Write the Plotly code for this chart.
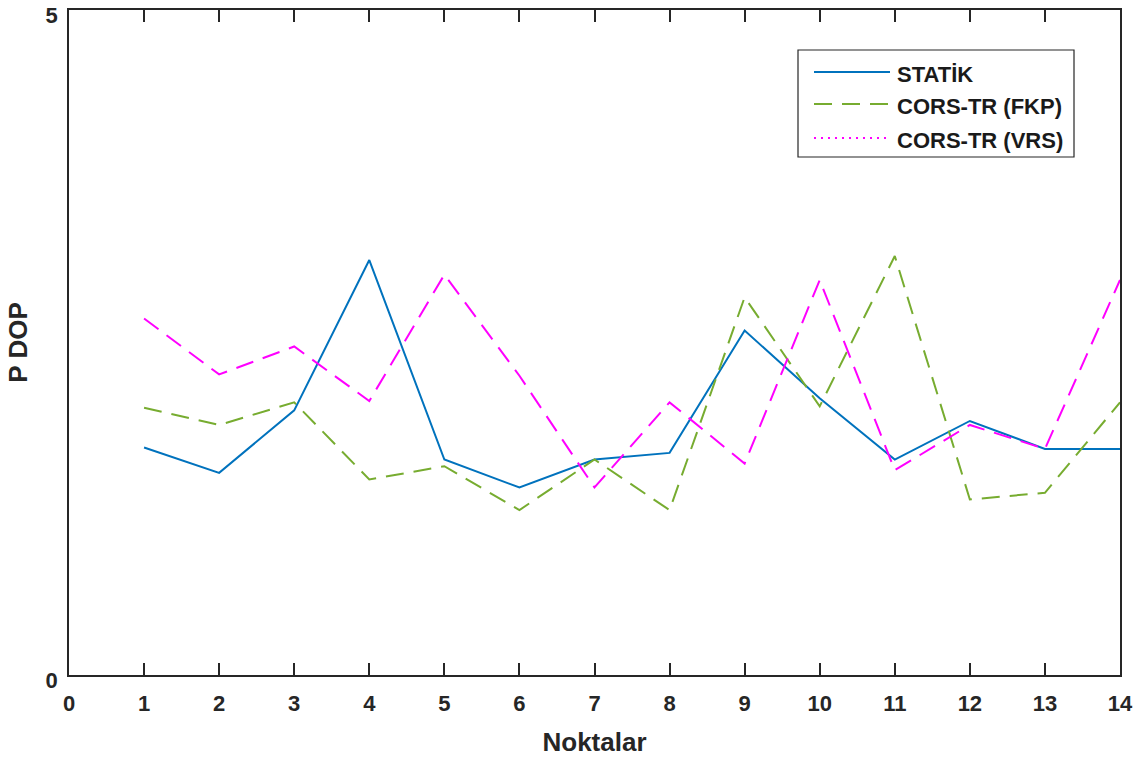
import plotly.graph_objects as go

# Measurement points and PDOP values per method
noktalar = list(range(1, 15))
statik = [1.71, 1.52, 1.99, 3.12, 1.62, 1.41, 1.62, 1.67, 2.59, 2.08, 1.62, 1.91, 1.70, 1.70]
fkp = [2.01, 1.88, 2.05, 1.47, 1.57, 1.24, 1.62, 1.24, 2.84, 2.02, 3.15, 1.32, 1.37, 2.05]
vrs = [2.68, 2.26, 2.47, 2.06, 3.01, 2.25, 1.41, 2.05, 1.59, 2.97, 1.54, 1.88, 1.70, 2.97]

names = ["STATİK", "CORS-TR (FKP)", "CORS-TR (VRS)"]
colors = ["#0072BD", "#77AC30", "#FF00FF"]
plot_dash = ["solid", "18px,10px", "18px,10px"]
legend_dash = ["solid", "18px,10px", "2px,5px"]

x_ticks = list(range(0, 15))
y_ticks = [0, 5]

FONT = "Liberation Sans, Arial, sans-serif"
AXIS_COLOR = "#262626"

fig = go.Figure()
for vals, name, col, dash in zip([statik, fkp, vrs], names, colors, plot_dash):
    fig.add_trace(go.Scatter(
        x=noktalar, y=vals, name=name, mode="lines",
        line=dict(color=col, width=2, dash=dash),
        showlegend=False,
    ))

# Plot area in pixels (used to place the boxed legend)
L, R, T, B = 69, 1120, 10, 675
W, H = R - L, B - T

def px(xp):
    return (xp - L) / W

def py(yp):
    return (B - yp) / H

shapes = [dict(type="rect", xref="paper", yref="paper",
               x0=px(798), x1=px(1074), y0=py(157), y1=py(50),
               line=dict(color=AXIS_COLOR, width=1.2), fillcolor="white", layer="above")]
annotations = []
rows = [72, 104, 138]
for name, col, dash, yr in zip(names, colors, legend_dash, rows):
    shapes.append(dict(type="line", xref="paper", yref="paper",
                       x0=px(814), x1=px(890), y0=py(yr), y1=py(yr),
                       line=dict(color=col, width=2, dash=dash), layer="above"))
    annotations.append(dict(xref="paper", yref="paper", x=px(895), y=py(yr + 2.5),
                            text=name, showarrow=False, xanchor="left", yanchor="middle",
                            font=dict(family=FONT, size=22, color="#1a1a1a", weight="bold")))

fig.update_layout(
    width=1147, height=762,
    margin=dict(l=L, r=1147 - R, t=T, b=762 - B),
    paper_bgcolor="white", plot_bgcolor="white",
    shapes=shapes, annotations=annotations,
    showlegend=False,
    xaxis=dict(
        range=[0, 14], tickvals=x_ticks, ticktext=[str(v) for v in x_ticks],
        ticks="inside", ticklen=12, tickwidth=1.5, tickcolor=AXIS_COLOR,
        showline=True, linecolor=AXIS_COLOR, linewidth=1.8, mirror="ticks",
        showgrid=False, zeroline=False, automargin=False,
        ticklabelstandoff=8, ticklabeloverflow="allow",
        tickfont=dict(family=FONT, size=22, color=AXIS_COLOR, weight="bold"),
        title=dict(text="Noktalar", standoff=18,
                   font=dict(family=FONT, size=26, color=AXIS_COLOR, weight="bold")),
    ),
    yaxis=dict(
        range=[0, 5], tickvals=y_ticks, ticktext=[str(v) for v in y_ticks],
        ticks="inside", ticklen=12, tickwidth=1.5, tickcolor=AXIS_COLOR,
        showline=True, linecolor=AXIS_COLOR, linewidth=1.8, mirror="ticks",
        showgrid=False, zeroline=False, automargin=False,
        ticklabelstandoff=5, ticklabelshift=5, ticklabeloverflow="allow",
        tickfont=dict(family=FONT, size=22, color=AXIS_COLOR, weight="bold"),
        title=dict(text="P DOP", standoff=10,
                   font=dict(family=FONT, size=26, color=AXIS_COLOR, weight="bold")),
    ),
)

fig.write_html("out.html")
